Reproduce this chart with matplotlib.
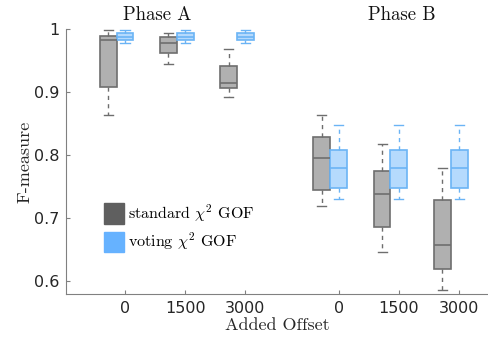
import numpy as np
import matplotlib.pyplot as plt
from matplotlib.patches import Patch

plt.rcParams['mathtext.fontset'] = 'cm'

# tick labels and group positions
offsets = ['0', '1500', '3000', '0', '1500', '3000']
positions = np.array([1, 2, 3, 4.55, 5.55, 6.55])

# box statistics: whisker low, q1, median, q3, whisker high
std_lo = [0.864, 0.944, 0.893, 0.719, 0.646, 0.587]
std_q1 = [0.908, 0.962, 0.907, 0.745, 0.686, 0.620]
std_med = [0.982, 0.978, 0.915, 0.796, 0.739, 0.658]
std_q3 = [0.989, 0.987, 0.941, 0.829, 0.775, 0.729]
std_hi = [0.999, 0.993, 0.968, 0.864, 0.817, 0.779]

vot_lo = [0.978, 0.978, 0.978, 0.731, 0.731, 0.731]
vot_q1 = [0.982, 0.982, 0.982, 0.748, 0.748, 0.748]
vot_med = [0.988, 0.988, 0.988, 0.779, 0.779, 0.779]
vot_q3 = [0.993, 0.993, 0.993, 0.808, 0.808, 0.808]
vot_hi = [0.998, 0.998, 0.998, 0.848, 0.848, 0.848]


def stats(lo, q1, med, q3, hi):
    return [dict(whislo=a, q1=b, med=c, q3=d, whishi=e, fliers=[])
            for a, b, c, d, e in zip(lo, q1, med, q3, hi)]


fig = plt.figure(figsize=(4.89, 3.40), dpi=100)
ax = fig.add_axes([66 / 489, 1 - 294 / 340, (488 - 66) / 489, (294 - 29) / 340])

w = 0.28
gray_edge, gray_fill = '#6e6e6e', '#b0b0b0'
blue_edge, blue_fill = '#6bb4f5', '#b5dafd'

for st, pos, ec, fc in [(stats(std_lo, std_q1, std_med, std_q3, std_hi), positions - w, gray_edge, gray_fill),
                        (stats(vot_lo, vot_q1, vot_med, vot_q3, vot_hi), positions, blue_edge, blue_fill)]:
    ax.bxp(st, positions=pos, widths=w, capwidths=0.15, showfliers=False, patch_artist=True,
           boxprops=dict(facecolor=fc, edgecolor=ec, linewidth=1.2),
           medianprops=dict(color=ec, linewidth=1.2),
           whiskerprops=dict(color=ec, linewidth=1.0, linestyle=(0, (3, 3))),
           capprops=dict(color=ec, linewidth=1.0),
           manage_ticks=False)

ax.set_xlim(0.02, 7.03)
ax.set_ylim(0.58, 1.0)
ax.set_xticks(positions)
ax.set_xticklabels(offsets)
ax.set_yticks([0.6, 0.7, 0.8, 0.9, 1.0])
ax.set_yticklabels(['0.6', '0.7', '0.8', '0.9', '1'])
for s in ['top', 'right']:
    ax.spines[s].set_visible(False)
for s in ['left', 'bottom']:
    ax.spines[s].set_color('#808080')
ax.tick_params(direction='in', length=3, colors='#808080', labelcolor='#262626', labelsize=11.5)
ax.tick_params(axis='x', pad=5)
ax.tick_params(axis='y', pad=5)

serif = 'cmr10'
ax.set_ylabel('F-measure', family=serif, fontsize=13, color='#262626', labelpad=1)
ax.set_xlabel('Added Offset', family=serif, fontsize=13, color='#262626', labelpad=1)
ax.text(1.53, 1.008, 'Phase A', family=serif, fontsize=13.5, ha='center', va='bottom', color='#111111')
ax.text(5.6, 1.008, 'Phase B', family=serif, fontsize=13.5, ha='center', va='bottom', color='#111111')

handles = [Patch(facecolor='#5f5f5f', edgecolor='#5f5f5f'),
           Patch(facecolor='#66b2ff', edgecolor='#66b2ff')]
ax.legend(handles, [r'standard $\chi^2$ GOF', r'voting $\chi^2$ GOF'],
          prop=dict(family=serif, size=11.5), frameon=False, handlelength=1.3, handleheight=1.6,
          handletextpad=0.2, labelspacing=0.45, loc='upper left', bbox_to_anchor=(0.055, 0.40))

fig.savefig('out.png', dpi=100)
